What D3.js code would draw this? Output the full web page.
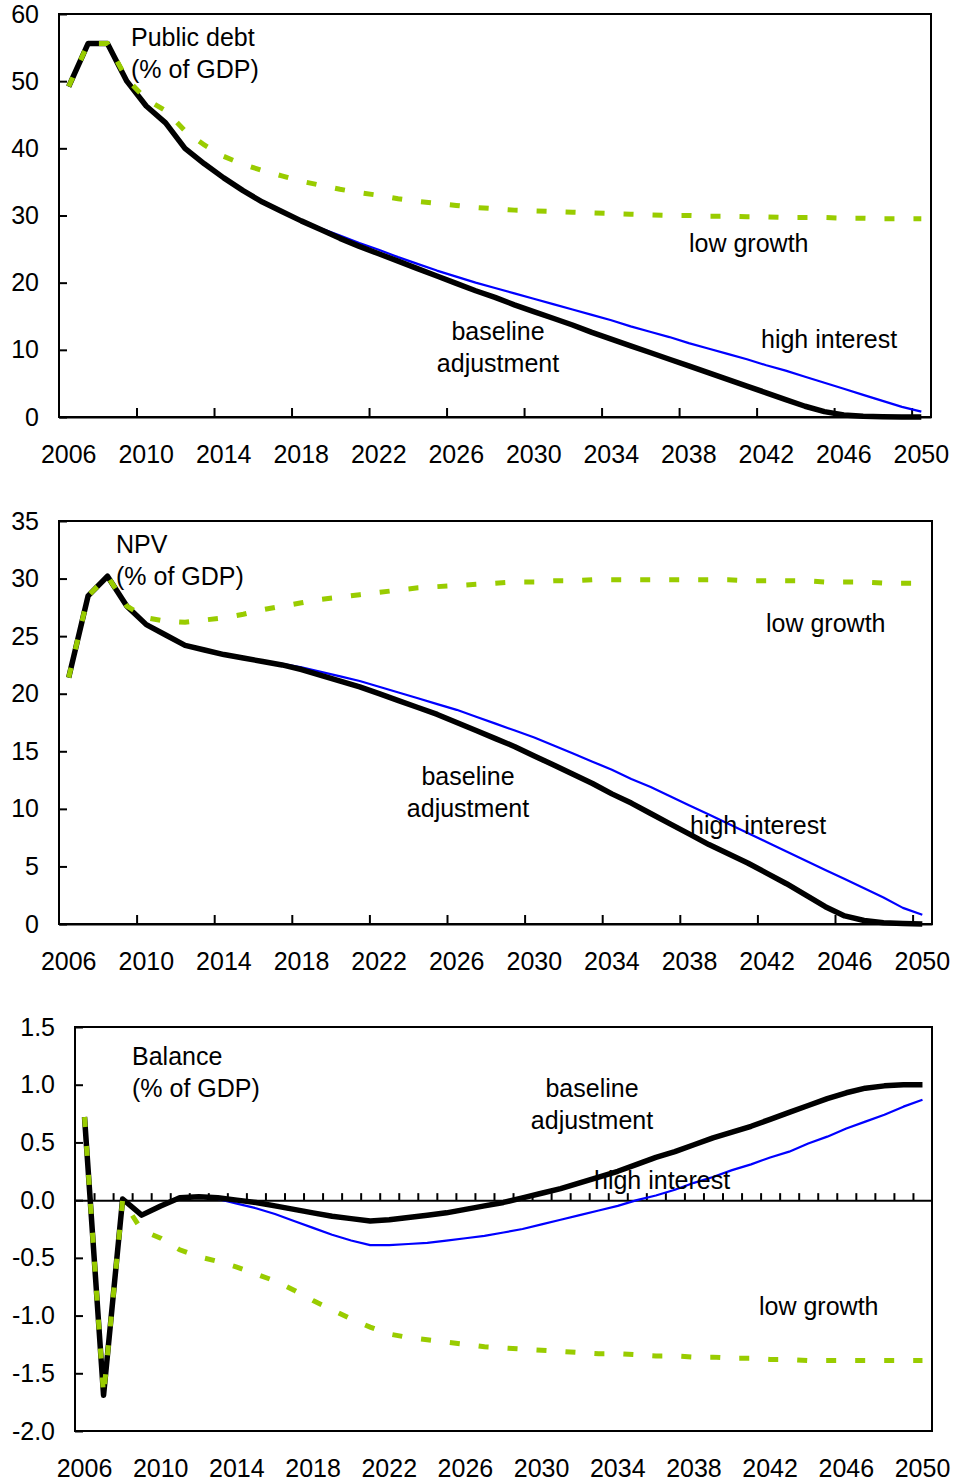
<!DOCTYPE html>
<html>
<head>
<meta charset="utf-8">
<script src="https://cdn.jsdelivr.net/npm/d3@7"></script>
<style>
  body { margin: 0; background: #fff; }
  svg text { font-family: "Liberation Sans", Arial, sans-serif; font-size: 25px; fill: #000; }
</style>
</head>
<body>
<svg id="chart" width="955" height="1484"></svg>
<script>
/// data ///
const years = d3.range(2006, 2051);
const yearLabels = ["2006","2010","2014","2018","2022","2026","2030","2034","2038","2042","2046","2050"];

// public debt, % of GDP
const debtBaseline = [49.2,55.6,55.6,50.0,46.3,43.8,40.0,37.7,35.6,33.7,32.0,30.6,29.2,27.9,26.6,25.4,24.3,23.2,22.1,21.0,
  19.9,18.8,17.8,16.7,15.7,14.7,13.7,12.6,11.6,10.6,9.6,8.6,7.6,6.6,5.6,4.6,3.6,2.6,1.6,0.8,0.3,0.1,0.05,0.0,0.0];
const debtHighInterest = [49.2,55.6,55.6,50.0,46.3,43.8,40.0,37.7,35.6,33.7,32.0,30.6,29.3,28.1,27.0,25.9,24.9,23.8,22.8,21.8,
  20.9,20.0,19.2,18.4,17.6,16.8,16.0,15.2,14.4,13.5,12.7,11.9,11.0,10.2,9.4,8.6,7.7,6.9,6.0,5.1,4.2,3.3,2.4,1.5,0.8];
const debtLowGrowth = [49.2,55.6,55.6,50.3,47.3,45.6,42.6,40.5,38.8,37.6,36.7,35.9,35.1,34.5,33.9,33.4,33.0,32.5,32.1,31.8,
  31.5,31.2,31.0,30.8,30.7,30.6,30.5,30.4,30.3,30.2,30.1,30.0,30.0,29.9,29.9,29.8,29.8,29.7,29.7,29.7,29.6,29.6,29.5,29.5,29.5];

// NPV, % of GDP
const npvBaseline = [21.4,28.5,30.2,27.6,26.0,25.1,24.2,23.8,23.4,23.1,22.8,22.5,22.1,21.6,21.1,20.6,20.0,19.4,18.8,18.2,
  17.5,16.8,16.1,15.4,14.6,13.8,13.0,12.2,11.3,10.5,9.6,8.7,7.8,6.9,6.1,5.3,4.4,3.5,2.5,1.5,0.7,0.3,0.1,0.05,0.0];
const npvHighInterest = [21.4,28.5,30.2,27.6,26.0,25.1,24.2,23.8,23.4,23.1,22.8,22.6,22.3,21.9,21.5,21.1,20.6,20.1,19.6,19.1,
  18.6,18.0,17.4,16.8,16.2,15.5,14.8,14.1,13.4,12.6,11.9,11.1,10.3,9.5,8.7,7.9,7.1,6.3,5.5,4.7,3.9,3.1,2.3,1.4,0.8];
const npvLowGrowth = [21.4,28.5,30.2,27.6,26.6,26.3,26.2,26.4,26.6,26.9,27.3,27.6,27.9,28.2,28.4,28.6,28.8,29.0,29.2,29.3,
  29.4,29.5,29.6,29.7,29.7,29.8,29.8,29.9,29.9,29.9,29.9,29.9,29.9,29.9,29.9,29.8,29.8,29.8,29.8,29.7,29.7,29.7,29.6,29.6,29.6];

// balance, % of GDP
const balBaseline = [0.72,-1.69,0.01,-0.13,-0.05,0.02,0.03,0.02,0.0,-0.02,-0.05,-0.08,-0.11,-0.14,-0.16,-0.18,-0.17,-0.15,-0.13,-0.11,
  -0.08,-0.05,-0.02,0.02,0.06,0.10,0.15,0.20,0.25,0.31,0.37,0.42,0.48,0.54,0.59,0.64,0.70,0.76,0.82,0.88,0.93,0.97,0.99,1.0,1.0];
const balHighInterest = [0.72,-1.69,0.01,-0.13,-0.05,0.02,0.03,0.01,-0.03,-0.07,-0.12,-0.18,-0.24,-0.30,-0.35,-0.39,-0.39,-0.38,-0.37,-0.35,
  -0.33,-0.31,-0.28,-0.25,-0.21,-0.17,-0.13,-0.09,-0.05,0.0,0.04,0.09,0.15,0.20,0.26,0.31,0.37,0.42,0.49,0.55,0.62,0.68,0.74,0.81,0.87];
const balLowGrowth = [0.72,-1.69,0.0,-0.26,-0.33,-0.43,-0.49,-0.53,-0.58,-0.64,-0.70,-0.78,-0.87,-0.95,-1.03,-1.10,-1.16,-1.19,-1.21,-1.23,
  -1.25,-1.27,-1.28,-1.29,-1.30,-1.31,-1.32,-1.33,-1.33,-1.34,-1.35,-1.35,-1.36,-1.36,-1.37,-1.37,-1.38,-1.38,-1.39,-1.39,-1.39,-1.39,-1.39,-1.39,-1.39];

// plain hyphen for negatives, like the original
const fmtInt = d => String(d);
const fmtOne = d => d.toFixed(1);

/// panels ///
const panels = [
  { box: {left: 59, right: 931, top: 14, bottom: 417}, domain: [0, 60], ticks: d3.range(0, 61, 10), fmt: fmtInt,
    series: [debtBaseline, debtHighInterest, debtLowGrowth], zeroAxis: false,
    notes: [
      {t: "Public debt", x: 131, y: 37, a: "start"}, {t: "(% of GDP)", x: 131, y: 69, a: "start"},
      {t: "low growth", x: 689, y: 243, a: "start"},
      {t: "baseline", x: 498, y: 331, a: "middle"}, {t: "adjustment", x: 498, y: 363, a: "middle"},
      {t: "high interest", x: 761, y: 339, a: "start"}
    ]},
  { box: {left: 59, right: 932, top: 521, bottom: 924}, domain: [0, 35], ticks: d3.range(0, 36, 5), fmt: fmtInt,
    series: [npvBaseline, npvHighInterest, npvLowGrowth], zeroAxis: false,
    notes: [
      {t: "NPV", x: 116, y: 544, a: "start"}, {t: "(% of GDP)", x: 116, y: 576, a: "start"},
      {t: "low growth", x: 766, y: 623, a: "start"},
      {t: "baseline", x: 468, y: 776, a: "middle"}, {t: "adjustment", x: 468, y: 808, a: "middle"},
      {t: "high interest", x: 690, y: 825, a: "start"}
    ]},
  { box: {left: 75, right: 932, top: 1027, bottom: 1431}, domain: [-2, 1.5], ticks: d3.range(-2, 1.51, 0.5), fmt: fmtOne,
    series: [balBaseline, balHighInterest, balLowGrowth], zeroAxis: true,
    notes: [
      {t: "Balance", x: 132, y: 1056, a: "start"}, {t: "(% of GDP)", x: 132, y: 1088, a: "start"},
      {t: "baseline", x: 592, y: 1088, a: "middle"}, {t: "adjustment", x: 592, y: 1120, a: "middle"},
      {t: "high interest", x: 594, y: 1180, a: "start"},
      {t: "low growth", x: 759, y: 1306, a: "start"}
    ]}
];

const svg = d3.select("#chart");

panels.forEach(p => {
  const b = p.box;
  const g = svg.append("g");

  const x = d3.scaleBand().domain(years).range([b.left, b.right]);
  const xc = d => x(d) + x.bandwidth() / 2;
  const y = d3.scaleLinear().domain(p.domain).range([b.bottom, b.top]);
  // boundary index scale for between-category ticks
  const xi = d3.scaleLinear().domain([0, years.length]).range([b.left, b.right]);

  // frame
  g.append("rect")
    .attr("x", b.left).attr("y", b.top)
    .attr("width", b.right - b.left).attr("height", b.bottom - b.top)
    .attr("fill", "none").attr("stroke", "#000").attr("stroke-width", 2);

  // y axis, ticks inside
  const yAxis = g.append("g")
    .attr("transform", `translate(${b.left},0)`)
    .call(d3.axisLeft(y).tickValues(p.ticks).tickFormat(p.fmt).tickSize(-8).tickPadding(20).tickSizeOuter(0));
  yAxis.select(".domain").remove();
  yAxis.selectAll("line").attr("stroke", "#000").attr("stroke-width", 2);
  yAxis.selectAll("text").attr("font-size", 25).attr("font-family", "Liberation Sans, Arial, sans-serif");

  // category axis line + ticks between categories
  const axisY = p.zeroAxis ? y(0) : b.bottom;
  const tickIdx = p.zeroAxis ? d3.range(1, years.length) : d3.range(4, years.length, 4);
  const xTicks = g.append("g")
    .attr("transform", `translate(0,${axisY})`)
    .call(d3.axisBottom(xi).tickValues(tickIdx).tickFormat("").tickSize(p.zeroAxis ? -7 : -9).tickSizeOuter(0));
  xTicks.select(".domain").attr("stroke", "#000").attr("stroke-width", 2);
  xTicks.selectAll("line").attr("stroke", "#000").attr("stroke-width", 2);

  // year labels at the bottom
  const xLab = g.append("g")
    .attr("transform", `translate(0,${b.bottom})`)
    .call(d3.axisBottom(x).tickValues(yearLabels.map(Number)).tickSize(0).tickPadding(28));
  xLab.select(".domain").remove();
  xLab.selectAll("text").attr("font-size", 25).attr("font-family", "Liberation Sans, Arial, sans-serif");

  // lines
  const line = d3.line().x((d, i) => xc(years[i])).y(d => y(d));
  const [base, high, low] = p.series;
  g.append("path").datum(high).attr("d", line)
    .attr("fill", "none").attr("stroke", "#0000ff").attr("stroke-width", 2.2).attr("stroke-linejoin", "round");
  g.append("path").datum(base).attr("d", line)
    .attr("fill", "none").attr("stroke", "#000").attr("stroke-width", 5.5).attr("stroke-linejoin", "round");
  g.append("path").datum(low).attr("d", line)
    .attr("fill", "none").attr("stroke", "#99cc00").attr("stroke-width", 5).attr("stroke-dasharray", "10,19");

  // annotations
  g.selectAll(".note").data(p.notes).join("text")
    .attr("class", "note")
    .attr("x", d => d.x).attr("y", d => d.y)
    .attr("dy", "0.35em")
    .attr("text-anchor", d => d.a)
    .text(d => d.t);
});
</script>
</body>
</html>
